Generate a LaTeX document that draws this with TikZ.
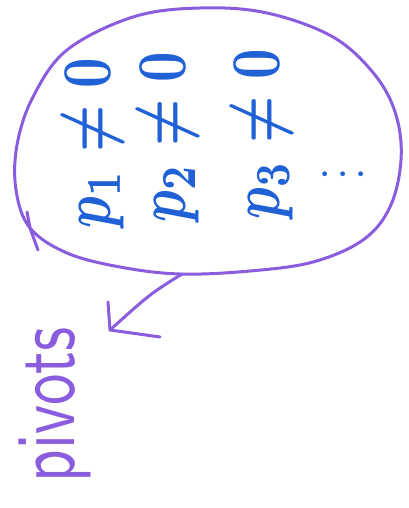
\documentclass[tikz,border=0pt]{standalone}
\usepackage{amsmath}
\definecolor{penpurple}{RGB}{138,92,222}
\definecolor{penblue}{RGB}{33,97,214}
\begin{document}
\begin{tikzpicture}[x=1pt,y=-1pt,
  pen/.style={draw=penpurple,line width=3pt,line cap=round,line join=round},
  bluetext/.style={text=penblue,rotate=90,xscale=5.3,yscale=7,inner sep=0pt,anchor=base,font=\boldmath},
  dotstext/.style={text=penblue,rotate=90,scale=4.5,inner sep=0pt,font=\boldmath},
  labeltext/.style={text=penpurple,rotate=90,xscale=6.3,yscale=8.5,inner sep=0pt,anchor=base,font=\sffamily}]
\useasboundingbox (0,0) rectangle (409,508);
% the bubble
\draw[pen] plot[smooth cycle,tension=0.6] coordinates {(30,228)(67,253)(120,267)(180,274)(250,271)(313,262)(363,240)(390,207)(401,160)(396,115)(375,75)(333,37)(267,13)(200,8)(133,17)(67,50)(33,97)(17,145)(16,190)};
\draw[pen] (27,212) -- (30,228) -- (38,250);
% contents
\node[bluetext] (l1) at (110,143) {$p_1\neq0$};
\node[bluetext] (l2) at (185,137) {$p_2\neq0$};
\node[bluetext] (l3) at (279,134) {$p_3\neq0$};
\node[dotstext] (dt) at (330,174) {$\vdots$};
% label and arrow
\node[labeltext] (piv) at (74,405) {pivots};
\coordinate (tail) at (182,274);
\coordinate (tip) at (110,330);
\draw[pen] (tail) .. controls (150,294) .. (tip);
\draw[pen] (tip) ++(-2,-28) -- (tip) -- ++(50,7);
\end{tikzpicture}
\end{document}
